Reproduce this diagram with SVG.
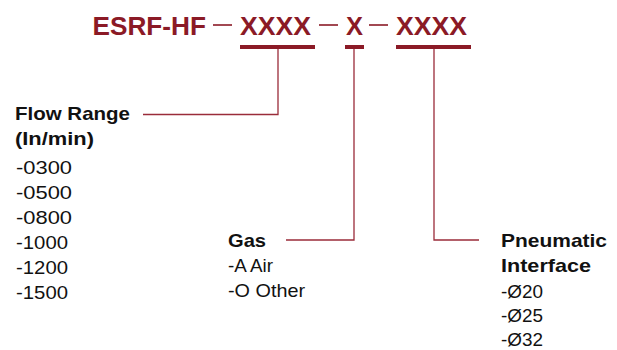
<svg xmlns="http://www.w3.org/2000/svg" width="617" height="350" viewBox="0 0 617 350">
<style>
.hd{font-family:"Liberation Sans",Arial,sans-serif;font-weight:bold;font-size:26.5px;fill:#8b1a26}
.bar{fill:#8b1a26}
.dash{stroke:#8b1a26;stroke-width:1.6}
.con{fill:none;stroke:#9a2c3a;stroke-width:1.3}
.b{font-family:"Liberation Sans",Arial,sans-serif;font-weight:bold;font-size:18.5px;fill:#111}
.r{font-family:"Liberation Sans",Arial,sans-serif;font-size:18.5px;fill:#111}
</style>
<rect width="617" height="350" fill="#fff"/>
<g id="code">
<text class="hd" x="92.5" y="35" textLength="113.5" lengthAdjust="spacingAndGlyphs">ESRF-HF</text>
<line class="dash" x1="213" y1="25" x2="232" y2="25"/>
<text class="hd" x="240" y="35" textLength="71" lengthAdjust="spacingAndGlyphs">XXXX</text>
<rect class="bar" x="240" y="45" width="75" height="4"/>
<line class="dash" x1="319" y1="25" x2="338" y2="25"/>
<text class="hd" x="346" y="35" textLength="17" lengthAdjust="spacingAndGlyphs">X</text>
<rect class="bar" x="345" y="45" width="19" height="4"/>
<line class="dash" x1="369" y1="25" x2="388" y2="25"/>
<text class="hd" x="396" y="35" textLength="71" lengthAdjust="spacingAndGlyphs">XXXX</text>
<rect class="bar" x="396" y="45" width="75" height="4"/>
</g>
<g id="connectors">
<path class="con" d="M278 49 V114.5 H143"/>
<path class="con" d="M354 49 V240 H286"/>
<path class="con" d="M434 49 V240 H479"/>
</g>
<g id="flow-range">
<text class="b" x="15" y="120" textLength="115" lengthAdjust="spacingAndGlyphs">Flow Range</text>
<text class="b" x="15" y="145" textLength="79" lengthAdjust="spacingAndGlyphs">(In/min)</text>
<text class="r" x="16" y="173.5" textLength="56" lengthAdjust="spacingAndGlyphs">-0300</text>
<text class="r" x="16" y="198.5" textLength="56" lengthAdjust="spacingAndGlyphs">-0500</text>
<text class="r" x="16" y="223.5" textLength="56" lengthAdjust="spacingAndGlyphs">-0800</text>
<text class="r" x="16" y="248.5" textLength="52" lengthAdjust="spacingAndGlyphs">-1000</text>
<text class="r" x="16" y="273.5" textLength="52" lengthAdjust="spacingAndGlyphs">-1200</text>
<text class="r" x="16" y="298.5" textLength="52" lengthAdjust="spacingAndGlyphs">-1500</text>
</g>
<g id="gas">
<text class="b" x="228" y="246.5" textLength="38" lengthAdjust="spacingAndGlyphs">Gas</text>
<text class="r" x="228" y="271.5" textLength="45" lengthAdjust="spacingAndGlyphs">-A Air</text>
<text class="r" x="228" y="296.5" textLength="77" lengthAdjust="spacingAndGlyphs">-O Other</text>
</g>
<g id="pneumatic-interface">
<text class="b" x="501" y="246.5" textLength="106" lengthAdjust="spacingAndGlyphs">Pneumatic</text>
<text class="b" x="501" y="271.5" textLength="90" lengthAdjust="spacingAndGlyphs">Interface</text>
<text class="r" x="501" y="298" textLength="42" lengthAdjust="spacingAndGlyphs">-Ø20</text>
<text class="r" x="501" y="322" textLength="42" lengthAdjust="spacingAndGlyphs">-Ø25</text>
<text class="r" x="501" y="346" textLength="42" lengthAdjust="spacingAndGlyphs">-Ø32</text>
</g>
</svg>
